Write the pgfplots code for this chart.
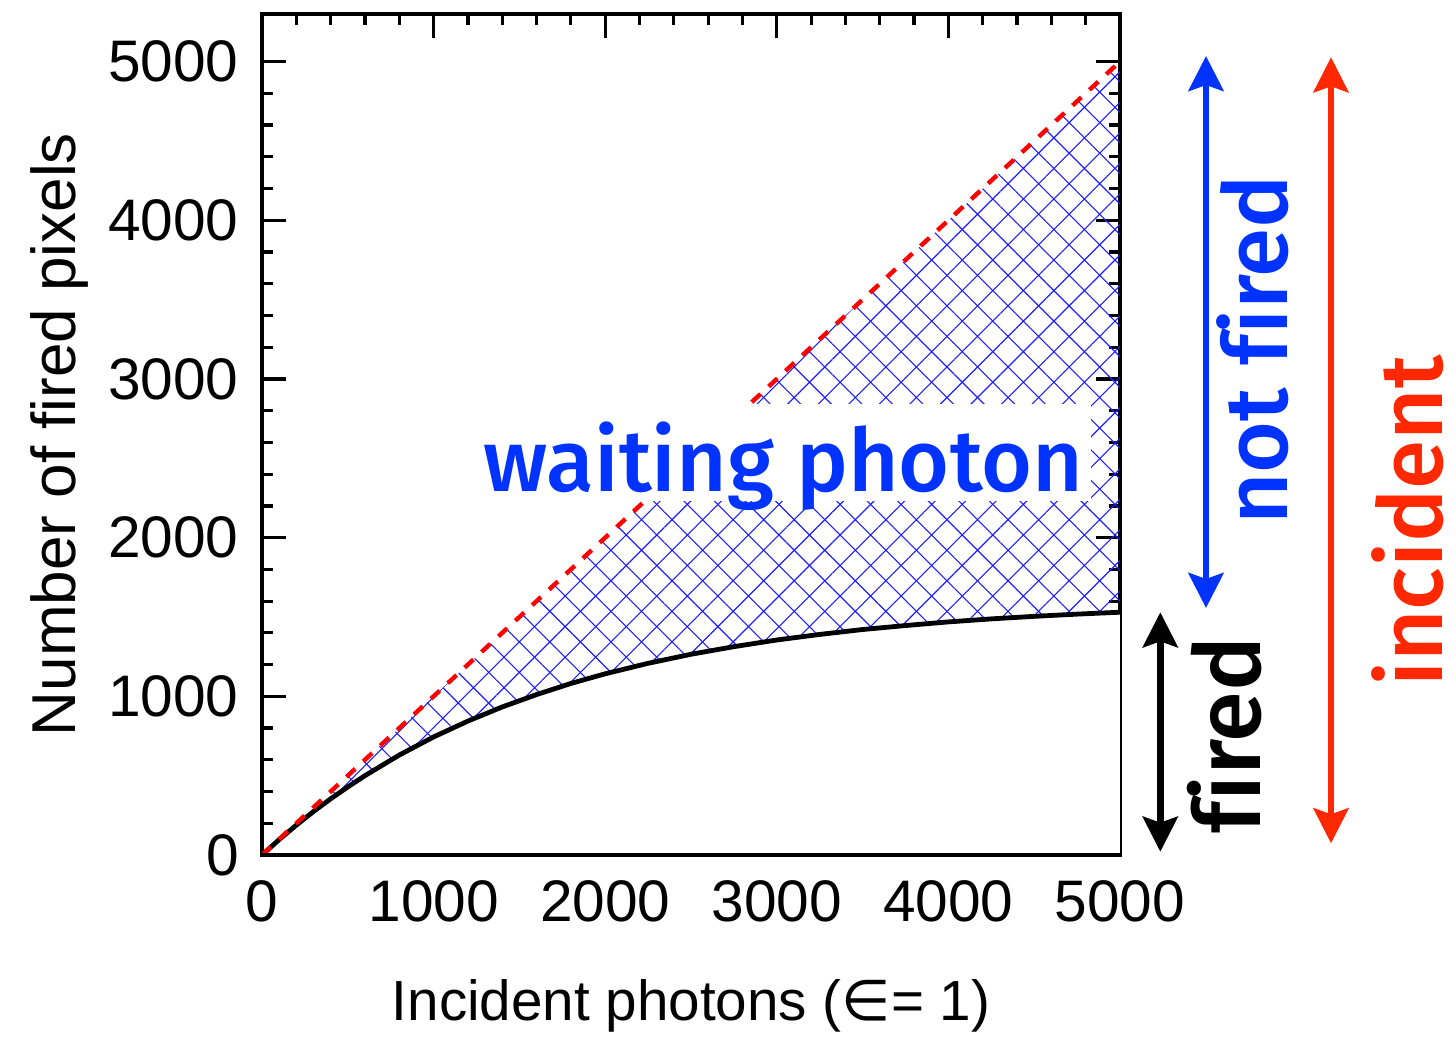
\documentclass[border=0pt]{standalone}
\usepackage{fontspec}
\setmainfont{Liberation Sans}
\newfontfamily\symfont{DejaVu Sans}
\newfontfamily\annotfont{Fira Sans Medium}[Ligatures=NoCommon]
\usepackage{pgfplots}
\usepackage{pgfplotstable}
\pgfplotsset{compat=1.18}
\usepgfplotslibrary{fillbetween}
\usetikzlibrary{patterns.meta, arrows.meta}

\definecolor{notfiredblue}{RGB}{0,51,255}
\definecolor{incidentred}{RGB}{255,40,0}
\definecolor{hatchblue}{RGB}{30,30,255}

% fired pixels versus incident photons
\pgfplotstableread{
x     y
0     0
100   97
200   188
300   274
400   354
500   429
600   500
800   630
1000  744
1200  844
1400  933
1600  1011
1800  1081
2000  1142
2250  1208
2500  1265
2750  1313
3000  1355
3250  1390
3500  1421
3750  1446
4000  1469
4250  1488
4500  1504
4750  1518
5000  1530
}\firedtable

\tikzset{bigarrow/.style={line width=3.2pt,
  {Stealth[length=17.5pt,width=17.5pt,inset=3pt]}-{Stealth[length=17.5pt,width=17.5pt,inset=3pt]}}}

\begin{document}
\begin{tikzpicture}
\begin{axis}[
  scale only axis, width=429pt, height=420.5pt,
  xmin=0, xmax=5000, ymin=0, ymax=5300,
  xtick={0,1000,...,5000}, ytick={0,1000,...,5000},
  minor x tick num=4, minor y tick num=4,
  tick align=inside, tick pos=both,
  xticklabel pos=lower, yticklabel pos=left,
  major tick length=12pt, minor tick length=5.5pt,
  every tick/.style={black, line width=1.6pt},
  axis line style={line width=2pt},
  /pgf/number format/assume math mode=true,
  /pgf/number format/1000 sep={},
  ticklabel style={font=\fontsize{29.3}{35}\selectfont, inner sep=0pt},
  xticklabel style={anchor=north, yshift=-12.5pt},
  yticklabel style={anchor=east, xshift=-11.5pt},
  xlabel={Incident photons ({\symfont ∈}= 1)},
  ylabel={Number of fired pixels},
  every axis x label/.style={at={(axis description cs:0.5,-0.1962)}, anchor=base,
    inner sep=0pt, font=\fontsize{28.3}{34}\selectfont},
  every axis y label/.style={at={(axis description cs:-0.2168,0.5)}, rotate=90, anchor=base,
    inner sep=0pt, font=\fontsize{31}{37}\selectfont},
]
\addplot[name path=ideal, draw=none] coordinates {(0,0) (5000,5000)};
\addplot[name path=fired, draw=none] table[x=x, y=y] {\firedtable};
% region below the response curve stays blank
\addplot[fill=white, draw=none] table[x=x, y=y] {\firedtable} \closedcycle;
% photons still waiting: cross-hatched band
\addplot[pattern={Lines[angle=45, distance=10.8pt, line width=0.55pt]}, pattern color=hatchblue, draw=none]
  fill between[of=ideal and fired];
\addplot[pattern={Lines[angle=-45, distance=10.8pt, line width=0.55pt]}, pattern color=hatchblue, draw=none]
  fill between[of=ideal and fired];
\addplot[black, line width=2.4pt] table[x=x, y=y] {\firedtable};
\addplot[red, line width=2.2pt, dash pattern=on 6pt off 5.5pt] coordinates {(0,0) (5000,5000)};
\draw[line width=2pt] (rel axis cs:0,0) -- (rel axis cs:1,0);
\coordinate (O) at (rel axis cs:0,0);
\end{axis}

\begin{scope}[shift={(O)}]
  \fill[white] (109pt,177pt) rectangle (414.5pt,225.5pt);
  \node[anchor=base, inner sep=0pt, text=notfiredblue,
        font=\annotfont\fontsize{43.7}{50}\selectfont] at (260.75pt,181.5pt) {waiting photon};
  \draw[notfiredblue, bigarrow] (472pt,123.5pt) -- (472pt,399.5pt);
  \draw[black, bigarrow] (449.15pt,1.65pt) -- (449.15pt,121.35pt);
  \draw[incidentred, bigarrow] (534.5pt,5.85pt) -- (534.5pt,398.85pt);
  \node[rotate=90, anchor=base, inner sep=0pt, text=notfiredblue,
        font=\annotfont\fontsize{44.5}{52}\selectfont] at (512.5pt,252.5pt) {not fired};
  \node[rotate=90, anchor=base, inner sep=0pt, text=black,
        font=\annotfont\fontsize{46}{52}\selectfont] at (499pt,60pt) {fired};
  \node[rotate=90, anchor=base, inner sep=0pt, text=incidentred,
        font=\annotfont\fontsize{44.5}{52}\selectfont] at (590pt,167pt) {incident};
\end{scope}

\pgfresetboundingbox
\path[use as bounding box] (O) ++(-131pt,-92pt) rectangle ++(728pt,519.5pt);
\end{tikzpicture}
\end{document}
